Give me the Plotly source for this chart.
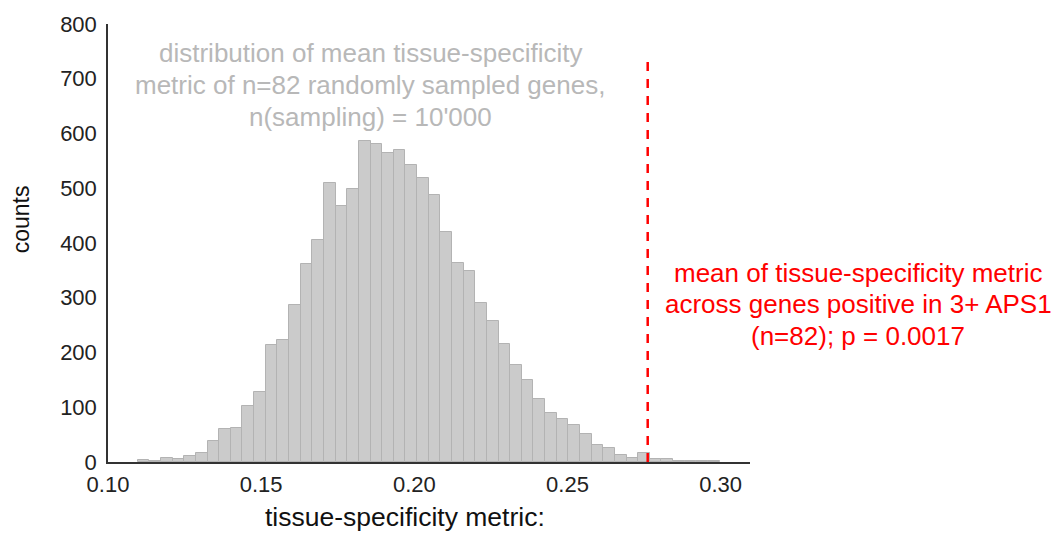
import plotly.graph_objects as go

# ---- data ----
bin_start = 0.1097
bin_width = 0.0038
counts = [3, 1, 7, 5, 11, 17, 38, 61, 63, 103,
          128, 214, 223, 286, 362, 405, 509, 468, 498, 587,
          581, 565, 569, 542, 519, 488, 421, 363, 349, 290,
          257, 216, 178, 150, 115, 90, 79, 68, 52, 31,
          26, 13, 7, 16, 6, 6, 2, 1, 1, 1]
observed_mean = 0.2762
x_ticks = [0.10, 0.15, 0.20, 0.25, 0.30]
y_ticks = [0, 100, 200, 300, 400, 500, 600, 700, 800]
gray_lines = ["distribution of mean tissue-specificity",
              "metric of n=82 randomly sampled genes,",
              "n(sampling) = 10'000"]
red_lines = ["mean of tissue-specificity metric",
             "across genes positive in 3+ APS1",
             "(n=82); p = 0.0017"]

centers = [bin_start + bin_width * (i + 0.5) for i in range(len(counts))]

fig = go.Figure()
fig.add_trace(go.Bar(
    x=centers, y=counts, width=[bin_width] * len(counts),
    marker=dict(color="#cbcbcb", line=dict(color="#b3b3b3", width=1)),
    hoverinfo="x+y",
))

fig.add_shape(type="line", xref="x", yref="y",
              x0=observed_mean, x1=observed_mean, y0=0, y1=735,
              line=dict(color="#ff0000", width=2.5, dash="9px,8px"))

FONT = "Liberation Sans, Arial, sans-serif"

# plot area in pixels: left 108, right 750, top 18, bottom 462
def px(xp):
    return (xp - 108) / 642

def py(yp):
    return (462 - yp) / 444

for line, ypix in zip(gray_lines, [47, 80, 112]):
    fig.add_annotation(xref="paper", yref="paper", x=px(370), y=py(ypix),
                       xanchor="center", yanchor="middle", showarrow=False,
                       text=line,
                       font=dict(family=FONT, size=26, color="#b8b8b8"))

for line, ypix in zip(red_lines, [270, 302, 334]):
    fig.add_annotation(xref="paper", yref="paper", x=px(858), y=py(ypix),
                       xanchor="center", yanchor="middle", showarrow=False,
                       text=line,
                       font=dict(family=FONT, size=26, color="#ff0000"))

fig.add_annotation(xref="paper", yref="paper", x=px(405), y=py(518),
                   xanchor="center", yanchor="middle", showarrow=False,
                   text="tissue-specificity metric:",
                   font=dict(family=FONT, size=26.5, color="#111111"))

fig.add_annotation(xref="paper", yref="paper", x=px(21), y=py(216),
                   xanchor="center", yanchor="middle", showarrow=False,
                   textangle=-90, text="counts",
                   font=dict(family=FONT, size=23, color="#111111"))

fig.update_layout(
    width=1062, height=540,
    margin=dict(l=108, r=312, t=18, b=78),
    paper_bgcolor="white", plot_bgcolor="white",
    showlegend=False, bargap=0,
    font=dict(family=FONT, size=22, color="#222222"),
    xaxis=dict(range=[0.10, 0.3096], tickvals=x_ticks,
               ticktext=[f"{v:.2f}" for v in x_ticks],
               showgrid=False, zeroline=False, showline=True,
               linecolor="#333333", linewidth=1.5, ticks="",
               ticklabelstandoff=2,
               tickfont=dict(size=22, color="#222222")),
    yaxis=dict(range=[0, 800], tickvals=y_ticks,
               showgrid=False, zeroline=False, showline=True,
               linecolor="#333333", linewidth=1.5, ticks="",
               ticklabelstandoff=5,
               tickfont=dict(size=22, color="#222222")),
)

fig.write_html("out.html")
